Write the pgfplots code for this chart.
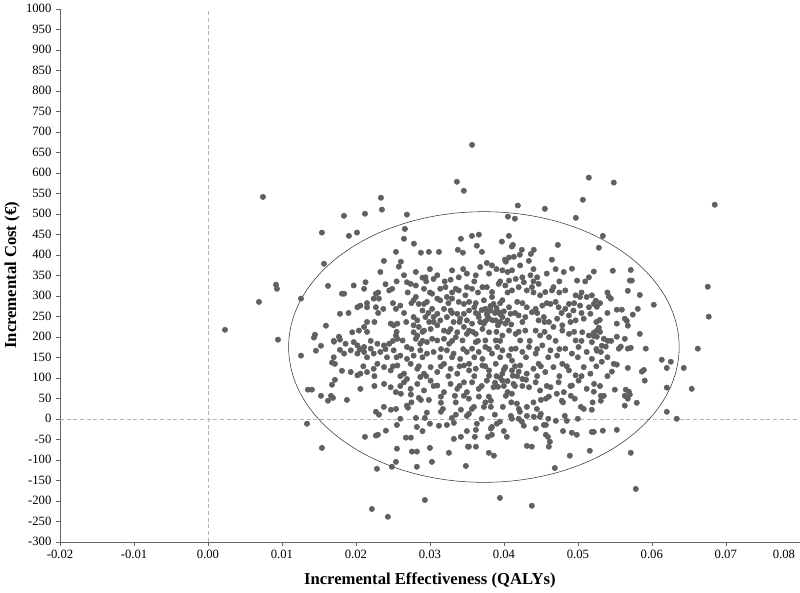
\documentclass[border=0pt]{standalone}
\usepackage{pgfplots}
\pgfplotsset{compat=1.18}
\usepackage{fontspec}
\setmainfont{Liberation Serif}
\definecolor{dotgray}{HTML}{606060}

\begin{document}
\begin{tikzpicture}
\begin{axis}[
    scale only axis,
    width=555pt, height=400pt,
    xmin=-0.02, xmax=0.08,
    ymin=-300, ymax=1000,
    axis x line=bottom, axis y line=left,
    axis line style={-, black!60},
    xtick={-0.02,-0.01,...,0.071},
    extra x ticks={0.08},
    extra x tick style={xticklabel style={anchor=north east}},
    ytick={-300,-250,...,1000},
    scaled x ticks=false, scaled y ticks=false,
    tick align=outside,
    major tick length=3pt,
    tick style={black!60},
    xticklabel style={/pgf/number format/fixed, /pgf/number format/fixed zerofill, /pgf/number format/precision=2},
    yticklabel style={/pgf/number format/fixed, /pgf/number format/1000 sep={}},
    /pgf/number format/assume math mode=true,
    tick label style={font=\fontsize{9.5}{10}\selectfont},
    xlabel={\textbf{Incremental Effectiveness (QALYs)}},
    ylabel={\textbf{Incremental Cost (€)}},
    label style={font=\fontsize{12.5}{14}\selectfont},
    xlabel style={at={(axis description cs:0.5,0)}, anchor=north, yshift=-20pt},
    ylabel style={yshift=-2pt},
    clip=false,
]
\draw[black!30, densely dashed, very thin] (axis cs:0,-300) -- (axis cs:0,1000);
\draw[black!30, densely dashed, very thin] (axis cs:-0.02,0) -- (axis cs:0.08,0);
\draw[black!80, thin] (axis cs:0.0373,175) ellipse [x radius=0.0264, y radius=330];
\addplot[only marks, mark=*, mark size=2pt, dotgray, mark options={draw=dotgray, fill=dotgray}] table {
x y
0.01838 495
0.02122 500
0.02338 539
0.02351 510
0.01905 446
0.02014 454
0.02689 498
0.02662 463
0.02649 439
0.02784 427
0.02541 407
0.02878 405
0.02986 407
0.03122 407
0.02378 385
0.02608 383
0.03365 578
0.03459 556
0.03419 439
0.03378 412
0.03446 405
0.0357 668
0.05149 588
0.05068 534
0.04189 520
0.04554 512
0.04054 493
0.04149 488
0.04973 490
0.03568 446
0.03662 449
0.04068 446
0.03635 422
0.03703 407
0.03973 432
0.04122 424
0.04108 420
0.04243 412
0.04405 412
0.04365 402
0.04216 400
0.04135 395
0.04068 393
0.04014 388
0.0473 424
0.04649 388
0.04338 385
0.0377 380
0.04027 383
0.05486 576
0.06851 522
0.05338 446
0.05284 417
0.00743 541
0.0154 454
0.00919 327
0.00932 317
0.00689 285
0.0023 217
0.00946 193
0.01257 293
0.01568 378
0.01622 324
0.01811 305
0.01784 256
0.01595 227
0.01432 198
0.01446 205
0.01527 178
0.01459 166
0.01257 154
0.01703 188
0.0177 200
0.01784 193
0.01784 168
0.01676 137
0.01716 134
0.01811 117
0.01716 95
0.01676 83
0.01351 71
0.01405 71
0.01527 56
0.01662 56
0.01689 51
0.01622 44
0.01338 -12
0.0154 -71
0.01878 46
0.0227 17
0.02311 10
0.02378 29
0.02473 22
0.02541 24
0.02689 32
0.02703 27
0.02554 -15
0.02122 -44
0.0227 -41
0.02297 -39
0.02405 -29
0.02676 -46
0.02743 -46
0.02811 2
0.02932 2
0.02959 15
0.02824 -20
0.03 -12
0.03122 -17
0.0323 -15
0.03324 -10
0.03297 2
0.03351 10
0.03419 22
0.035 7
0.03149 54
0.03149 39
0.03176 24
0.03149 17
0.02851 51
0.02878 46
0.02986 46
0.03324 -49
0.03419 -44
0.03514 -68
0.03257 -83
0.03 -71
0.02757 -80
0.02824 -80
0.02554 -73
0.03027 -105
0.02824 -117
0.02541 -105
0.02486 -117
0.02284 -122
0.03486 -115
0.02932 -198
0.02216 -220
0.02432 -239
0.02608 61
0.02743 59
0.03338 56
0.03459 56
0.03527 49
0.03662 54
0.03797 54
0.03824 44
0.0373 29
0.03824 29
0.03568 24
0.03595 29
0.03527 12
0.03986 29
0.04027 56
0.04108 61
0.04176 37
0.04203 24
0.04216 17
0.04311 29
0.04446 24
0.045 46
0.04568 49
0.04608 54
0.04716 61
0.04784 44
0.04905 56
0.04959 49
0.05041 29
0.05081 24
0.05189 22
0.03878 10
0.04095 7
0.04108 0
0.04243 -7
0.0427 -17
0.03946 -7
0.03905 -12
0.04311 7
0.04405 5
0.04486 5
0.045 12
0.04541 -15
0.04568 -15
0.04703 -5
0.04824 7
0.04851 -5
0.03635 -12
0.03622 -27
0.03838 -20
0.03824 -24
0.04432 -24
0.03608 -44
0.03784 -44
0.03838 -39
0.0404 -44
0.04568 -39
0.04595 -44
0.04622 -56
0.04608 -68
0.04919 -34
0.04986 -39
0.05189 -32
0.03527 -68
0.03622 -68
0.04311 -66
0.04378 -68
0.03797 -83
0.03865 -90
0.04892 -90
0.05162 -78
0.04689 -120
0.03946 -193
0.04378 -212
0.05311 56
0.05351 56
0.05311 44
0.05635 56
0.05703 59
0.05676 49
0.05635 32
0.05797 39
0.06203 17
0.06338 0
0.05216 -32
0.05338 -29
0.05527 -27
0.05716 -83
0.05784 -171
0.05216 359
0.05473 361
0.05716 363
0.05703 337
0.0573 337
0.05676 312
0.05838 302
0.05419 298
0.05446 293
0.05243 288
0.05257 273
0.05216 280
0.06027 278
0.05811 268
0.05527 266
0.05595 266
0.05743 254
0.05635 244
0.05662 239
0.05676 227
0.05527 232
0.05297 241
0.05284 222
0.05257 215
0.05216 210
0.05257 200
0.05216 202
0.05351 195
0.05405 190
0.05324 178
0.05378 176
0.05257 166
0.05311 163
0.05527 200
0.05635 195
0.05838 207
0.05581 176
0.05554 171
0.05676 171
0.05716 173
0.05919 171
0.05324 139
0.05486 134
0.05527 132
0.0546 115
0.05676 124
0.05892 119
0.05865 115
0.05905 93
0.06135 144
0.06257 139
0.06203 124
0.06432 124
0.06622 171
0.06757 322
0.0677 249
0.06203 76
0.0654 73
0.055 71
0.05649 71
0.0569 66
0.05216 66
0.0233 358
0.0258 371
0.0265 350
0.0281 358
0.0290 344
0.0294 345
0.0305 341
0.0310 350
0.0330 362
0.0328 339
0.0339 345
0.0350 354
0.0197 325
0.0213 333
0.0211 317
0.0240 328
0.0245 313
0.0249 317
0.0269 333
0.0274 329
0.0281 325
0.0292 317
0.0303 305
0.0314 317
0.0321 321
0.0335 317
0.0339 313
0.0350 321
0.0184 305
0.0227 305
0.0231 293
0.0224 293
0.0281 297
0.0278 289
0.0285 280
0.0292 280
0.0296 285
0.0310 293
0.0314 289
0.0323 297
0.0330 293
0.0339 285
0.0346 280
0.0348 301
0.0202 272
0.0206 276
0.0215 272
0.0227 272
0.0237 268
0.0254 268
0.0260 276
0.0290 264
0.0303 268
0.0310 256
0.0319 268
0.0328 264
0.0337 256
0.0346 256
0.0353 264
0.0278 248
0.0283 240
0.0294 248
0.0299 236
0.0305 248
0.0314 240
0.0323 248
0.0332 236
0.0341 244
0.0350 240
0.0247 232
0.0256 232
0.0251 228
0.0215 236
0.0211 224
0.0204 215
0.0195 211
0.0278 228
0.0285 224
0.0292 215
0.0301 219
0.0310 228
0.0319 215
0.0328 219
0.0337 211
0.0346 224
0.0186 183
0.0197 187
0.0202 179
0.0211 175
0.0229 183
0.0238 179
0.0245 183
0.0254 203
0.0256 195
0.0263 191
0.0269 175
0.0278 211
0.0283 203
0.0281 195
0.0287 183
0.0296 187
0.0303 195
0.0310 191
0.0319 195
0.0326 183
0.0335 199
0.0344 191
0.0350 207
0.0193 167
0.0202 159
0.0211 163
0.0220 171
0.0224 159
0.0233 163
0.0242 150
0.0251 167
0.0260 154
0.0269 146
0.0278 154
0.0287 167
0.0296 159
0.0305 163
0.0314 150
0.0323 167
0.0332 159
0.0341 146
0.0350 163
0.0184 159
0.0193 114
0.0202 106
0.0206 110
0.0215 114
0.0224 122
0.0229 134
0.0238 126
0.0247 118
0.0256 130
0.0265 110
0.0274 134
0.0283 122
0.0292 110
0.0301 126
0.0310 114
0.0319 134
0.0328 122
0.0337 110
0.0346 130
0.0353 118
0.0206 73
0.0238 85
0.0247 77
0.0254 65
0.0265 89
0.0274 73
0.0283 85
0.0292 69
0.0301 93
0.0310 81
0.0319 65
0.0328 85
0.0337 73
0.0346 89
0.0350 65
0.0269 97
0.0287 102
0.0368 370
0.0384 374
0.0398 362
0.0405 358
0.0411 362
0.0422 374
0.0425 345
0.0436 350
0.0445 345
0.0458 354
0.0481 358
0.0492 366
0.0499 337
0.0515 345
0.0407 337
0.0416 341
0.0380 354
0.0362 350
0.0357 317
0.0371 321
0.0377 321
0.0384 309
0.0393 329
0.0402 325
0.0411 313
0.0420 321
0.0427 333
0.0431 313
0.0438 321
0.0447 329
0.0449 301
0.0456 309
0.0465 313
0.0467 321
0.0483 313
0.0497 301
0.0503 297
0.0512 297
0.0519 301
0.0353 285
0.0360 272
0.0373 289
0.0384 297
0.0386 280
0.0398 289
0.0407 272
0.0418 285
0.0431 272
0.0443 268
0.0452 276
0.0463 280
0.0470 285
0.0474 272
0.0483 268
0.0488 280
0.0494 264
0.0503 276
0.0515 272
0.0375 268
0.0382 264
0.0393 260
0.0357 232
0.0366 248
0.0377 256
0.0380 244
0.0389 240
0.0398 248
0.0402 232
0.0409 256
0.0420 252
0.0429 248
0.0438 260
0.0447 240
0.0454 248
0.0461 236
0.0472 244
0.0479 228
0.0488 252
0.0497 240
0.0508 244
0.0517 256
0.0373 232
0.0353 215
0.0362 207
0.0371 219
0.0380 211
0.0389 191
0.0398 203
0.0407 215
0.0416 207
0.0422 191
0.0429 215
0.0443 215
0.0449 203
0.0461 199
0.0467 224
0.0479 215
0.0488 207
0.0497 191
0.0506 211
0.0515 203
0.0519 187
0.0362 187
0.0375 191
0.0357 171
0.0366 163
0.0375 175
0.0384 159
0.0391 175
0.0398 167
0.0407 154
0.0416 171
0.0425 163
0.0434 175
0.0443 159
0.0452 179
0.0463 167
0.0472 154
0.0483 171
0.0492 159
0.0501 175
0.0512 163
0.0519 146
0.0371 146
0.0411 142
0.0353 134
0.0362 122
0.0371 130
0.0380 118
0.0389 134
0.0398 110
0.0402 126
0.0411 118
0.0422 130
0.0431 110
0.0440 122
0.0447 134
0.0456 114
0.0467 126
0.0479 134
0.0488 118
0.0497 106
0.0508 126
0.0517 110
0.0357 89
0.0366 73
0.0377 93
0.0386 77
0.0398 93
0.0405 65
0.0413 85
0.0425 97
0.0434 77
0.0443 89
0.0449 69
0.0463 77
0.0474 89
0.0481 65
0.0492 81
0.0501 93
0.0512 73
0.0522 85
0.0370 265
0.0378 250
0.0390 270
0.0395 255
0.0385 240
0.0400 262
0.0375 238
0.0392 228
0.0405 240
0.0365 255
0.0382 275
0.0410 230
0.0395 100
0.0405 92
0.0412 105
0.0388 88
0.0420 115
0.0400 120
0.0392 78
0.0415 80
0.0380 105
0.0430 95
0.0300 365
0.0345 365
0.0390 365
0.0440 365
0.0470 365
0.0255 335
0.0295 335
0.0320 335
0.0360 335
0.0395 335
0.0440 335
0.0475 335
0.0510 335
0.0230 308
0.0270 308
0.0300 308
0.0330 308
0.0365 308
0.0405 308
0.0440 308
0.0475 308
0.0505 308
0.0540 308
0.0215 282
0.0250 282
0.0275 282
0.0325 282
0.0362 282
0.0395 282
0.0425 282
0.0458 282
0.0495 282
0.0530 282
0.0190 258
0.0230 258
0.0265 258
0.0298 258
0.0330 258
0.0362 258
0.0388 258
0.0415 258
0.0445 258
0.0478 258
0.0505 258
0.0540 258
0.0225 236
0.0268 236
0.0305 236
0.0340 236
0.0368 236
0.0395 236
0.0425 236
0.0455 236
0.0490 236
0.0525 236
0.0215 212
0.0255 212
0.0290 212
0.0325 212
0.0358 212
0.0390 212
0.0420 212
0.0455 212
0.0495 212
0.0530 212
0.0170 190
0.0220 190
0.0250 190
0.0290 190
0.0330 190
0.0365 190
0.0395 190
0.0435 190
0.0470 190
0.0505 190
0.0545 190
0.0205 170
0.0240 170
0.0275 170
0.0315 170
0.0345 170
0.0380 170
0.0410 170
0.0445 170
0.0475 170
0.0525 170
0.0170 150
0.0215 150
0.0255 150
0.0290 150
0.0330 150
0.0360 150
0.0395 150
0.0430 150
0.0460 150
0.0500 150
0.0540 150
0.0210 128
0.0250 128
0.0285 128
0.0315 128
0.0340 128
0.0375 128
0.0415 128
0.0450 128
0.0485 128
0.0525 128
0.0225 104
0.0260 104
0.0295 104
0.0325 104
0.0360 104
0.0390 104
0.0418 104
0.0445 104
0.0475 104
0.0505 104
0.0540 104
0.0225 80
0.0260 80
0.0305 80
0.0340 80
0.0370 80
0.0400 80
0.0425 80
0.0458 80
0.0490 80
0.0530 80
0.0275 40
0.0335 40
0.0375 40
0.0410 40
0.0440 40
0.0480 40
0.0520 40
0.0260 0
0.0370 0
0.0420 0
0.0460 0
0.0500 0
0.0290 -30
0.0350 -30
0.0400 -30
0.0480 -30
};
\end{axis}
\end{tikzpicture}
\end{document}
